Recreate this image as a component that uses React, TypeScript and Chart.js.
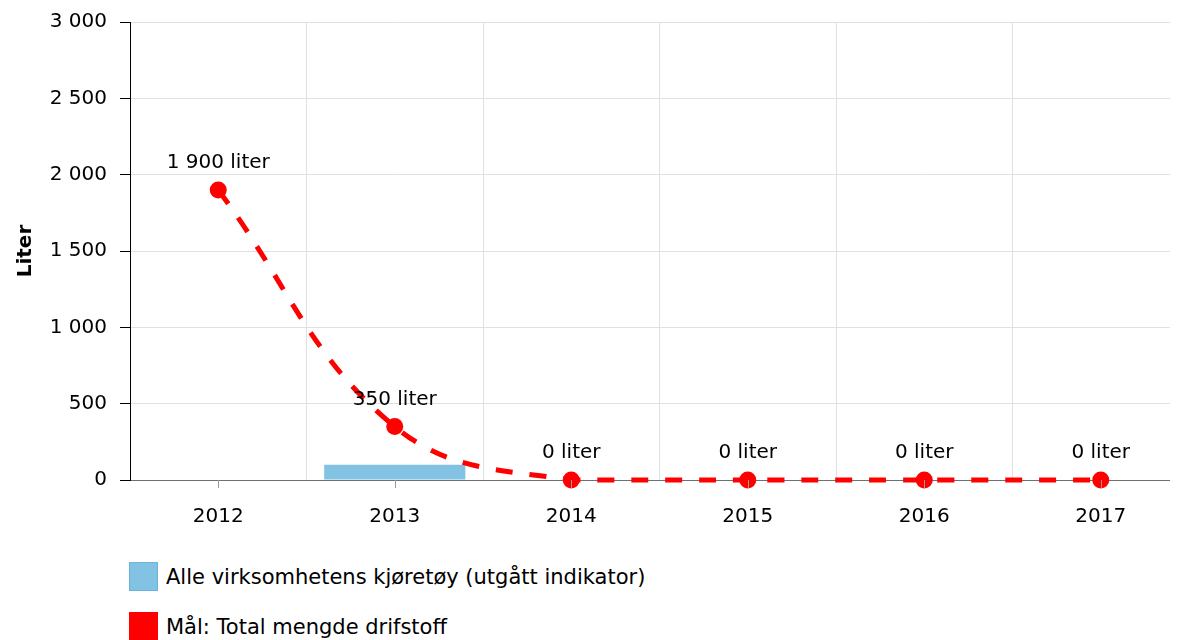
import React, { useEffect, useRef } from "react";
import { Chart, registerables } from "chart.js";

Chart.register(...registerables);

const categories = ["2012", "2013", "2014", "2015", "2016", "2017"];
const vehicleValues: (number | null)[] = [null, 100, null, null, null, null];
const targetValues: number[] = [1900, 350, 0, 0, 0, 0];
const seriesLabels = [
  "Alle virksomhetens kjøretøy (utgått indikator)",
  "Mål: Total mengde drifstoff",
];
const yAxisTitle = "Liter";
const unitLabel = "liter";
const yMin = 0;
const yMax = 3000;
const yStep = 500;

const FONT = "'DejaVu Sans', Verdana, sans-serif";
const BAR_COLOR = "#82c3e4";
const BAR_BORDER = "#6bb3dc";
const LINE_COLOR = "#ff0000";
const GRID_COLOR = "#e0e0e0";

const fmt = (v: number) => String(v).replace(/\B(?=(\d{3})+(?!\d))/g, " ");

const centerTicks = {
  id: "centerTicks",
  afterDraw(chart: any) {
    const xs = chart.scales.x;
    const ctx = chart.ctx;
    ctx.save();
    ctx.strokeStyle = "#999999";
    ctx.lineWidth = 1;
    categories.forEach((_, i) => {
      const px = Math.round(xs.getPixelForValue(i)) + 0.5;
      ctx.beginPath();
      ctx.moveTo(px, xs.top);
      ctx.lineTo(px, xs.top + 8);
      ctx.stroke();
    });
    ctx.restore();
  },
};

const valueLabels = {
  id: "valueLabels",
  afterDatasetsDraw(chart: any) {
    const ctx = chart.ctx;
    const meta = chart.getDatasetMeta(1);
    ctx.save();
    ctx.font = `20px ${FONT}`;
    ctx.fillStyle = "#000";
    ctx.textAlign = "center";
    ctx.textBaseline = "alphabetic";
    meta.data.forEach((pt: any, i: number) => {
      const v = targetValues[i];
      if (v === null || v === undefined) return;
      ctx.fillText(`${fmt(v)} ${unitLabel}`, pt.x, pt.y - 22);
    });
    ctx.restore();
  },
};

export default function App() {
  const ref = useRef<HTMLCanvasElement | null>(null);

  useEffect(() => {
    if (!ref.current) return;
    const chart = new Chart(ref.current, {
      type: "bar",
      data: {
        labels: categories,
        datasets: [
          {
            type: "bar",
            label: seriesLabels[0],
            data: vehicleValues,
            backgroundColor: BAR_COLOR,
            borderWidth: 0,
            categoryPercentage: 0.8,
            barPercentage: 1,
            order: 2,
          } as any,
          {
            type: "line",
            label: seriesLabels[1],
            data: targetValues,
            borderColor: LINE_COLOR,
            backgroundColor: LINE_COLOR,
            borderWidth: 5,
            borderDash: [17, 17],
            tension: 0.4,
            pointRadius: 8.5,
            pointBorderWidth: 0,
            pointBackgroundColor: LINE_COLOR,
            clip: false,
            order: 1,
          } as any,
        ],
      },
      options: {
        animation: false,
        responsive: false,
        maintainAspectRatio: false,
        layout: { padding: { top: 0, right: 9, bottom: 0, left: 0 } },
        plugins: {
          legend: { display: false },
          tooltip: { enabled: false },
        },
        scales: {
          x: {
            grid: { color: GRID_COLOR, offset: true, drawTicks: false },
            border: { color: "#707070", width: 1 },
            ticks: {
              color: "#000",
              font: { family: FONT, size: 20 },
              padding: 25,
              maxRotation: 0,
            },
            afterFit: (s: any) => {
              s.height = 68;
            },
          },
          y: {
            min: yMin,
            max: yMax,
            grid: { color: GRID_COLOR, tickColor: "#000", tickLength: 10 },
            border: { color: "#000", width: 1 },
            ticks: {
              stepSize: yStep,
              color: "#000",
              font: { family: FONT, size: 20 },
              padding: 13,
              callback: (v: any) => fmt(Number(v)),
            },
            title: {
              display: true,
              text: yAxisTitle,
              color: "#000",
              font: { family: FONT, size: 20, weight: "bold" },
              padding: { top: 6, bottom: 0 },
            },
            afterFit: (s: any) => {
              s.width = 122;
            },
          },
        },
      },
      plugins: [centerTicks, valueLabels],
    });
    return () => chart.destroy();
  }, []);

  const legendItems = [
    { label: seriesLabels[0], color: BAR_COLOR, border: BAR_BORDER },
    { label: seriesLabels[1], color: LINE_COLOR, border: LINE_COLOR },
  ];

  return (
    <div style={{ width: 1170, overflow: "hidden" }}>
      <canvas
        ref={ref}
        width={1190}
        height={551}
        style={{ display: "block", width: 1190, height: 551, marginTop: -11 }}
      />
      <div style={{ marginTop: 14, fontFamily: FONT, fontSize: 21, color: "#000" }}>
        {legendItems.map((it) => (
          <div
            key={it.label}
            style={{
              display: "flex",
              alignItems: "center",
              height: 29,
              marginBottom: 21,
              marginLeft: 121,
            }}
          >
            <span
              style={{
                display: "inline-block",
                boxSizing: "border-box",
                width: 29,
                height: 29,
                background: it.color,
                border: `1px solid ${it.border}`,
              }}
            />
            <span style={{ marginLeft: 8, whiteSpace: "nowrap" }}>{it.label}</span>
          </div>
        ))}
      </div>
    </div>
  );
}
